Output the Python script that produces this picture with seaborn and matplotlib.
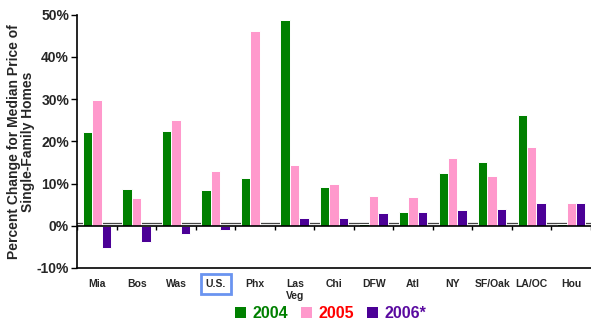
import pandas as pd
import matplotlib
matplotlib.use("Agg")
import matplotlib.pyplot as plt
import seaborn as sns

cities = ["Mia", "Bos", "Was", "U.S.", "Phx", "Las\nVeg", "Chi", "DFW",
          "Atl", "NY", "SF/Oak", "LA/OC", "Hou"]
years = ["2004", "2005", "2006*"]
chg_2004 = [22.2, 8.6, 22.4, 8.4, 11.2, 48.8, 9.1, 0.3, 3.3, 12.4, 15.1, 26.2, 0.3]
chg_2005 = [29.7, 6.5, 25.0, 12.9, 46.1, 14.5, 10.0, 7.0, 6.8, 16.0, 11.8, 18.6, 5.3]
chg_2006 = [-5.3, -3.9, -2.0, -1.1, -0.4, 1.8, 1.8, 2.9, 3.2, 3.7, 3.9, 5.5, 5.5]
yticks = [-10, 0, 10, 20, 30, 40, 50]

bar_colors = ["#008000", "#FF99CC", "#4B0096"]
text_colors = ["#008000", "#FF0000", "#5A0AA0"]


def main():
    df = pd.DataFrame({
        "city": cities * 3,
        "year": [years[0]] * 13 + [years[1]] * 13 + [years[2]] * 13,
        "chg": chg_2004 + chg_2005 + chg_2006,
    })

    sns.set_style("white")
    plt.rcParams["font.family"] = ["Liberation Sans", "DejaVu Sans"]
    plt.rcParams["font.weight"] = "bold"

    fig = plt.figure(figsize=(5.91, 3.22), dpi=100)
    ax = fig.add_axes([0.131, 0.168, 0.869, 0.786])

    # floor line of the pseudo-3D chart, visible between the groups
    ax.axhline(0.7, color="#444444", lw=0.9, zorder=0)

    sns.barplot(data=df, x="city", y="chg", hue="year", order=cities,
                hue_order=years, palette=bar_colors, width=0.72,
                saturation=1, edgecolor="white", linewidth=0.7, ax=ax,
                zorder=2)

    ax.axhline(0, color="black", lw=1.2, zorder=3)
    n = len(cities)
    bounds = [i + 0.5 for i in range(-1, n)]
    ax.vlines(bounds, -1.0, 0, color="black", lw=1, zorder=3)

    ax.set_xlim(-0.5, 12.35)
    ax.set_ylim(-10, 50)
    ax.set_yticks(yticks)
    ax.set_yticklabels([f"{v}%" for v in yticks], fontsize=10, fontweight="bold")
    ax.set_xticks(range(n))
    ax.set_xticklabels(cities, fontsize=7.5, fontweight="bold", linespacing=1.3)
    ax.set_xticks(bounds, minor=True)
    ax.tick_params(axis="x", which="major", length=0, pad=8)
    ax.tick_params(axis="x", which="minor", length=4, width=1, direction="out",
                   color="black")
    ax.tick_params(axis="y", length=4, width=1, direction="out", color="black",
                   left=True, pad=2)

    for lab in ax.get_xticklabels():
        if lab.get_text() == "U.S.":
            lab.set_bbox(dict(facecolor="none", edgecolor="#6A94F0",
                              linewidth=2, boxstyle="square,pad=0.45"))

    ax.set_xlabel("")
    ax.set_ylabel("Percent Change for Median Price of\nSingle-Family Homes",
                  fontsize=10, fontweight="bold", labelpad=1, linespacing=1.0)

    for s in ["top", "right"]:
        ax.spines[s].set_visible(False)
    ax.spines["left"].set_color("black")
    ax.spines["bottom"].set_color("black")
    ax.spines["left"].set_linewidth(1.2)
    ax.spines["bottom"].set_linewidth(1.2)

    handles, labels = ax.get_legend_handles_labels()
    ax.legend_.remove()
    leg = fig.legend(handles, labels, loc="center", bbox_to_anchor=(0.56, 0.025),
                     ncol=3, frameon=False, fontsize=11.5, handlelength=0.7,
                     handleheight=0.7, handletextpad=0.4, columnspacing=0.8)
    for t, c in zip(leg.get_texts(), text_colors):
        t.set_color(c)
        t.set_fontweight("bold")
    for h in leg.legend_handles:
        h.set_edgecolor("none")

    fig.savefig("out.png", dpi=100)


if __name__ == "__main__":
    main()
